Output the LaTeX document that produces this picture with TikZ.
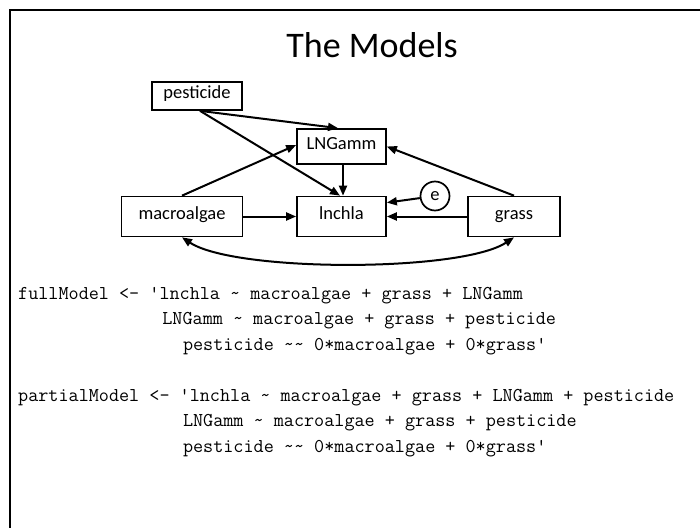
\documentclass[tikz,border=0pt]{standalone}
\usepackage{fontspec}
\setmainfont{Carlito}
\usetikzlibrary{arrows.meta,calc}
\newcommand{\tld}{\textasciitilde}
\newcommand{\q}{\textquotesingle}
\begin{document}
\begin{tikzpicture}[x=1pt,y=-1pt,
  box/.style={draw,line width=1.7pt,minimum height=40pt,inner sep=0pt,text height=0.7em,text depth=0.2em,font=\fontsize{18.5}{20}\selectfont},
  arr/.style={line width=2pt,-{Triangle[length=10pt,width=8pt]}},
  barr/.style={line width=2pt,{Triangle[length=10pt,width=8pt]}-{Triangle[length=10pt,width=8pt]}},
  code/.style={anchor=base west,inner sep=0pt,font=\ttfamily\fontsize{19.6}{22}\selectfont}]
\useasboundingbox (0,0) rectangle (700,527);
\draw[line width=2.5pt] (10,528) -- (10,10) -- (701,10);
\node[font=\fontsize{36}{40}\selectfont, anchor=base east, inner sep=0pt] (title) at (458,57) {The Models};
\node[box,minimum width=90pt,minimum height=28pt] (pest) at (197,96) {pesticide};
\node[box,minimum width=89pt,minimum height=35pt] (lng) at (341.5,146.5) {LNGamm};
\node[box,minimum width=121pt] (mac) at (182,216.5) {macroalgae};
\node[box,minimum width=89pt] (lnc) at (341.5,216.5) {lnchla};
\node[box,minimum width=92pt] (grass) at (514,216.5) {grass};
\node[draw,circle,line width=1.7pt,minimum size=29pt,inner sep=0pt,font=\fontsize{18.5}{20}\selectfont] (e) at (435,196) {e};
\draw[arr] ([xshift=3pt]pest.south) -- ([xshift=-3.5pt]lng.north);
\draw[arr] ([xshift=3pt]pest.south) -- ([xshift=-1.5pt]lnc.north);
\draw[arr] ([xshift=1.5pt]lng.south) -- ([xshift=1.5pt]lnc.north);
\draw[arr] (mac.north) -- ([yshift=1.5pt]lng.west);
\draw[arr] (grass.north) -- (lng.east);
\draw[arr] (mac.east) -- (lnc.west);
\draw[arr] (grass.west) -- (lnc.east);
\draw[arr] (e) -- ([yshift=-7pt]lnc.north east);
\draw[barr] (mac.south) .. controls ($(mac.south)+(53,35)$) and ($(grass.south)+(-53,35)$) .. (grass.south);
\node[code] (l1) at (18,299) {fullModel <- \q lnchla \tld{} macroalgae + grass + LNGamm};
\node[code] (l2) at (162.2,324.5) {LNGamm \tld{} macroalgae + grass + pesticide};
\node[code] (l3) at (182.8,350) {pesticide \tld\tld{} 0*macroalgae + 0*grass\q};
\node[code] (l4) at (18,401) {partialModel <- \q lnchla \tld{} macroalgae + grass + LNGamm + pesticide};
\node[code] (l5) at (182.8,426.5) {LNGamm \tld{} macroalgae + grass + pesticide};
\node[code] (l6) at (182.8,452) {pesticide \tld\tld{} 0*macroalgae + 0*grass\q};
\end{tikzpicture}
\end{document}
